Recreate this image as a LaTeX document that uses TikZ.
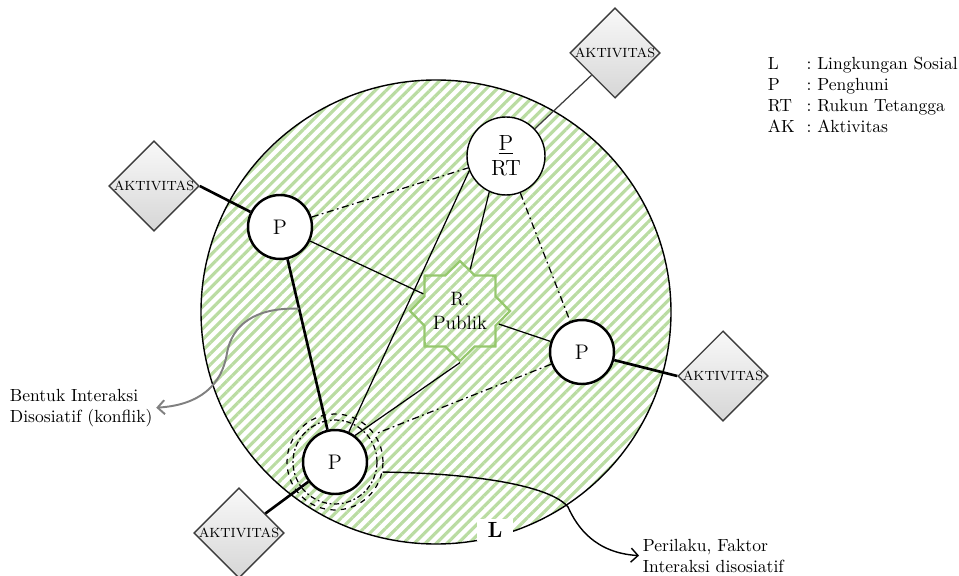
\documentclass[tikz,border=0pt]{standalone}
\usepackage{amsmath}
\usepackage{tkz-euclide}
\usetikzlibrary{shapes.geometric,patterns.meta,arrows.meta}

\definecolor{hatch}{RGB}{186,220,162}
\definecolor{stargreen}{RGB}{150,200,110}
\definecolor{edgegray}{RGB}{60,60,60}

\tikzset{
  person/.style={circle,draw,fill=white,line width=1.4pt,minimum size=1.28cm,
    inner sep=0pt,font=\fontsize{12}{14}\selectfont},
  activity/.style={diamond,draw=edgegray,line width=0.8pt,top color=gray!5,
    bottom color=gray!32,minimum width=1.76cm,minimum height=1.76cm,
    inner sep=0pt,font=\fontsize{7.6}{8}\selectfont},
  bond/.style={line width=1.5pt},
  link/.style={line width=0.7pt},
  loose/.style={line width=0.7pt,dash pattern=on 4pt off 2pt on 1pt off 2pt},
  note/.style={align=left,inner sep=2pt,font=\fontsize{10}{12}\selectfont}
}

\begin{document}
\begin{tikzpicture}[x=0.02cm,y=0.02cm]
                \useasboundingbox (0,0) rectangle (959,575);
                \tkzDefPoints{436/263/O,506/419/T,280/348/A,582/223/B,335/113/C,460/264/S}
                \tkzDefPoints{615/522/E,154/389/F,723/199/G,239/42/H}
                % lingkungan sosial
                \draw[line width=0.8pt,pattern={Lines[angle=45,distance=4.4pt,line width=1.8pt]},
                  pattern color=hatch] (O) ellipse [x radius=235,y radius=232];
                \node[star,star points=8,star point ratio=1.3,draw=stargreen,line width=1.3pt,
                  minimum size=1.96cm,inner sep=0pt,align=center,
                  font=\fontsize{11}{14}\selectfont] (RP) at (S) {R.\\Publik};
                \node[circle,draw,fill=white,line width=0.8pt,minimum size=1.56cm,inner sep=0pt,
                  align=center,font=\fontsize{12.5}{14}\selectfont] (RT) at (T) {\underline{P}\\RT};
                \node[person] (PA) at (A) {P};
                \node[person] (PB) at (B) {P};
                \node[person] (PC) at (C) {P};
                \node[circle,draw,minimum size=1.68cm,line width=0.7pt,
                  dash pattern=on 3pt off 1.5pt on 1pt off 1.5pt] (C1) at (C) {};
                \node[circle,draw,minimum size=1.92cm,line width=0.7pt,dashed] (C2) at (C) {};
                \node[activity] (AE) at (E) {AKTIVITAS};
                \node[activity] (AF) at (F) {AKTIVITAS};
                \node[activity] (AG) at (G) {AKTIVITAS};
                \node[activity,minimum height=1.6cm] (AH) at (H) {AKTIVITAS};
                % hubungan
                \draw[link,edgegray] (AE) -- (RT);
                \draw[bond] (AF.east) -- (PA);
                \draw[bond] (AG.west) -- (PB);
                \draw[bond] (AH) -- (PC);
                \draw[bond] (PA) -- coordinate[pos=0.29] (K) (PC);
                \draw[link] (PA) -- (RP);
                \draw[link] (RP) -- (PB);
                \draw[link] (RT.245) -- (RP);
                \draw[link] (RT.202) -- (PC);
                \draw[link] (RP.south) -- (PC.53);
                \draw[loose] (PA) -- (RT);
                \draw[loose] (RT) -- (PB);
                \draw[loose] (PB) -- (C2.35);
                % keterangan
                \node[fill=white,inner xsep=6pt,inner ysep=2pt,
                  font=\fontsize{12.5}{14}\selectfont\bfseries] (L) at (495,45) {L};
                \node[note,anchor=north west] (KEY) at (764,524) {%
                  \begin{tabular}{@{}p{22pt}@{:\ }l@{}}
                  L & Lingkungan Sosial\\
                  P & Penghuni\\
                  RT & Rukun Tetangga\\
                  AK & Aktivitas
                  \end{tabular}};
                \node[note,anchor=north west] (BI) at (6,190) {Bentuk Interaksi\\Disosiatif (konflik)};
                \node[note,anchor=north west] (PF) at (639,40) {Perilaku, Faktor\\Interaksi disosiatif};
                \draw[line width=1.1pt,gray,-{Straight Barb[length=4pt,width=8pt]}]
                  (K) .. controls (255,268) and (232,250) .. (227,222)
                  .. controls (222,190) and (200,170) .. (BI.east);
                \draw[line width=0.8pt,-{Straight Barb[length=4pt,width=8pt]}]
                  (C2.-12) .. controls (470,102) and (550,90) .. (568,68)
                  .. controls (577,48) and (595,22) .. (PF.west);
            \end{tikzpicture}
\end{document}
